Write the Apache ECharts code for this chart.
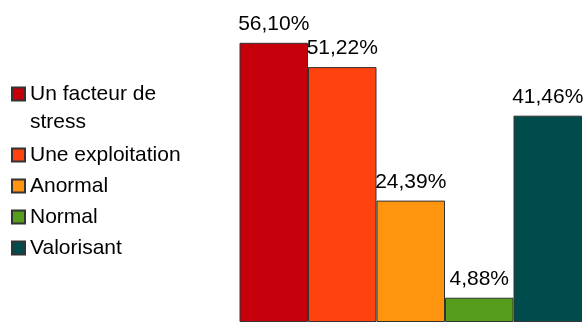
<!DOCTYPE html>
<html>
<head>
<meta charset="utf-8">
<script src="https://cdn.jsdelivr.net/npm/echarts@6/dist/echarts.min.js"></script>
<style>
  html, body { margin: 0; padding: 0; background: #fff; }
  #chart { width: 583px; height: 322px; }
</style>
</head>
<body>
<div id="chart"></div>
<script>
// Share of answers per perception (percent)
const seriesNames = ['Un facteur de stress', 'Une exploitation', 'Anormal', 'Normal', 'Valorisant'];
const seriesValues = [56.10, 51.22, 24.39, 4.88, 41.46];
const seriesColors = ['#c5000b', '#ff420e', '#ff950e', '#579d1c', '#004c4c'];
const categories = [''];

const FONT = '"Liberation Sans", Arial, sans-serif';

const chart = echarts.init(document.getElementById('chart'));

const series = seriesNames.map((name, i) => ({
  name: name,
  type: 'bar',
  data: [seriesValues[i]],
  barGap: '0%',
  barCategoryGap: '0%',
  itemStyle: { color: seriesColors[i], borderColor: '#333', borderWidth: 1 },
  label: {
    show: true,
    position: 'top',
    distance: 8,
    color: '#000',
    fontFamily: FONT,
    fontSize: 21,
    formatter: p => p.value.toFixed(2).replace('.', ',') + '%'
  },
  emphasis: { disabled: true },
  animation: false
}));

// The long legend entry wraps onto two lines; a leading blank line keeps
// its first line level with the colour swatch.
const legendText = name => name === 'Un facteur de stress' ? ' \nUn facteur de\nstress' : name;

chart.setOption({
  backgroundColor: '#fff',
  animation: false,
  grid: { left: 239.5, right: 1, top: 23.4, bottom: -3.6 },
  xAxis: { type: 'category', data: categories, show: false },
  yAxis: { type: 'value', min: 0, max: 60, show: false, splitLine: { show: false } },
  legend: {
    orient: 'vertical',
    left: 11,
    top: 52,
    padding: 0,
    itemGap: 7,
    itemWidth: 13,
    itemHeight: 13,
    icon: 'rect',
    selectedMode: false,
    textStyle: { color: '#000', fontFamily: FONT, fontSize: 21, lineHeight: 24 },
    formatter: legendText,
    data: seriesNames.map((name, i) => i === 0
      ? { name: name, textStyle: { lineHeight: 28 } }
      : { name: name })
  },
  series: series
});
</script>
</body>
</html>
